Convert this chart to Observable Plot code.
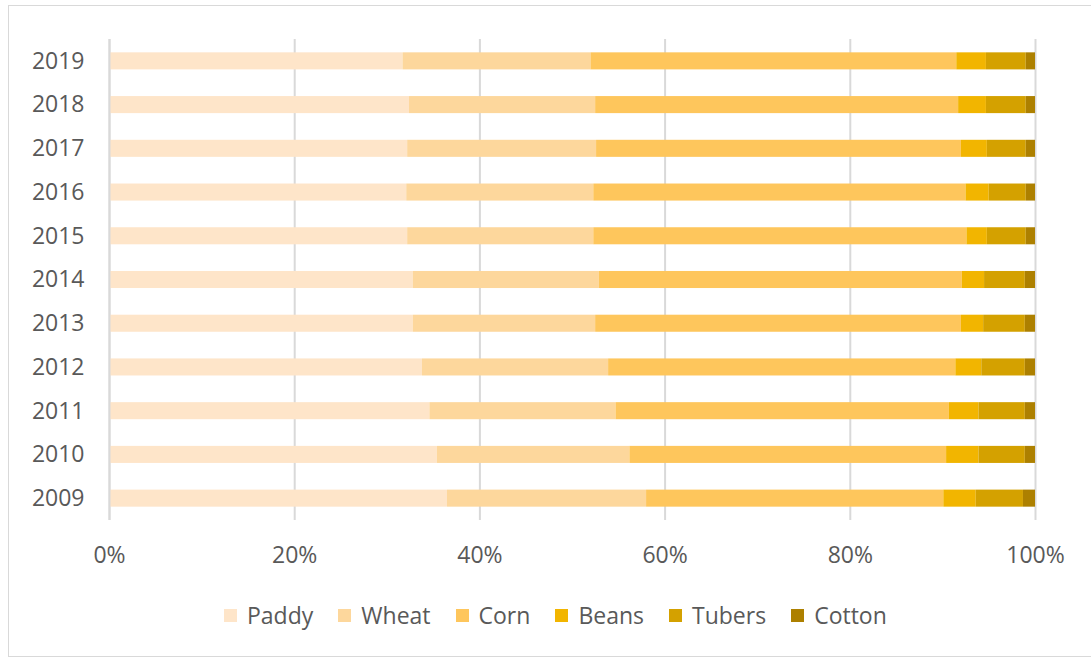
<!DOCTYPE html>
<html>
<head>
<meta charset="utf-8">
<script src="https://cdn.jsdelivr.net/npm/d3@7"></script>
<script src="https://cdn.jsdelivr.net/npm/@observablehq/plot@0.6"></script>
<style>
  html, body { margin: 0; padding: 0; background: #fff; }
  #wrap { position: relative; width: 1091px; height: 659px; overflow: hidden; font-family: "Open Sans", sans-serif; }
  #frame { position: absolute; left: 8px; top: 5px; width: 1100px; height: 652px; border: 1px solid #d9d9d9; box-sizing: border-box; pointer-events: none; }
  #chart { position: absolute; left: 0; top: 0; }
  #legend { position: absolute; left: 224px; top: 603px; display: flex; gap: 25px; font-size: 23px; line-height: 24px; color: #595959; white-space: nowrap; }
  #legend .item { display: flex; align-items: center; gap: 10px; }
  #legend .sw { width: 13px; height: 13px; display: inline-block; }
</style>
</head>
<body>
<div id="wrap">
  <div id="chart"></div>
  <div id="legend"></div>
  <div id="frame"></div>
</div>
<script>
const years = ["2019","2018","2017","2016","2015","2014","2013","2012","2011","2010","2009"];
const crops = ["Paddy","Wheat","Corn","Beans","Tubers","Cotton"];
const colors = ["#fee5c9","#fdd79c","#fec65c","#f2b500","#d4a100","#ad8000"];
const paddy  = [31.7, 32.4, 32.2, 32.1, 32.2, 32.8, 32.8, 33.8, 34.6, 35.4, 36.5];
const wheat  = [20.3, 20.1, 20.4, 20.2, 20.1, 20.1, 19.7, 20.1, 20.1, 20.8, 21.5];
const corn   = [39.5, 39.2, 39.4, 40.2, 40.3, 39.2, 39.5, 37.5, 36.0, 34.2, 32.1];
const beans  = [3.2, 3.0, 2.8, 2.5, 2.2, 2.4, 2.4, 2.8, 3.2, 3.5, 3.5];
const tubers = [4.3, 4.3, 4.2, 4.0, 4.2, 4.4, 4.5, 4.7, 5.0, 5.0, 5.1];
const cotton = [1.0, 1.0, 1.0, 1.0, 1.0, 1.1, 1.1, 1.1, 1.1, 1.1, 1.3];
const ticks = [0, 0.2, 0.4, 0.6, 0.8, 1.0];

const series = [paddy, wheat, corn, beans, tubers, cotton];
const data = [];
years.forEach((y, i) => {
  crops.forEach((c, j) => data.push({year: y, crop: c, value: series[j][i]}));
});

const chart = Plot.plot({
  width: 1091,
  height: 580,
  marginLeft: 109,
  marginRight: 56,
  marginTop: 39,
  marginBottom: 60,
  style: { fontFamily: "Open Sans, sans-serif", fontSize: "23px", color: "#595959", background: "transparent" },
  x: { domain: [0, 1], ticks: ticks, tickFormat: d3.format(".0%"), tickSize: 0, tickPadding: 26, label: null },
  y: { domain: years, paddingInner: 0.61, paddingOuter: 0.305, round: false, tickSize: 0, tickPadding: 25, label: null },
  color: { domain: crops, range: colors },
  marks: [
    Plot.gridX(ticks, { stroke: "#d9d9d9", strokeOpacity: 1, strokeWidth: 2 }),
    Plot.barX(data, Plot.stackX({ offset: "normalize", order: crops, x: "value", y: "year", fill: "crop" })),
    Plot.ruleX([0], { stroke: "#d9d9d9", strokeWidth: 2 })
  ]
});
document.getElementById("chart").appendChild(chart);

const legend = document.getElementById("legend");
crops.forEach((c, i) => {
  const it = document.createElement("div");
  it.className = "item";
  const sw = document.createElement("span");
  sw.className = "sw";
  sw.style.background = colors[i];
  const t = document.createElement("span");
  t.textContent = c;
  it.appendChild(sw); it.appendChild(t);
  legend.appendChild(it);
});
</script>
</body>
</html>
